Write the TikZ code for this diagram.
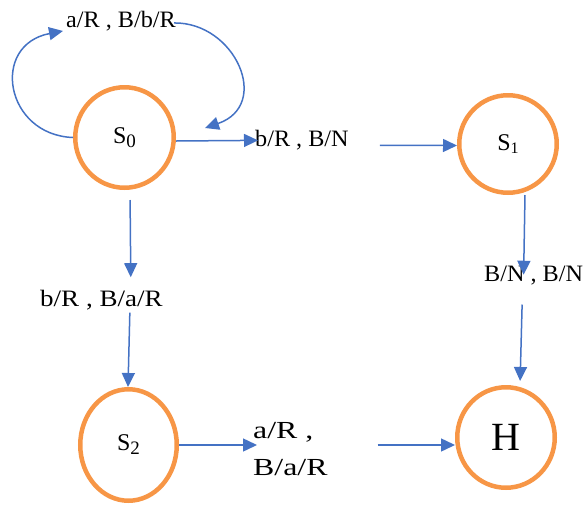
\documentclass[tikz,border=0pt]{standalone}
\usepackage{fontspec}
\setmainfont{Liberation Serif}
\newfontfamily\lblnarrow[FakeStretch=1.03]{Liberation Serif}
\newfontfamily\lblmid[FakeStretch=1.15]{Liberation Serif}
\newfontfamily\lblwide[FakeStretch=1.3]{Liberation Serif}
\usetikzlibrary{arrows.meta,shapes.geometric}
\definecolor{stateorange}{RGB}{247,150,70}
\definecolor{edgeblue}{RGB}{68,114,196}
\tikzset{
  state/.style={ellipse, draw=stateorange, line width=4.5pt, inner sep=0pt},
  arr/.style={draw=edgeblue, line width=1.5pt, -{Triangle[length=14pt,width=13pt]}},
  lbl/.style={inner sep=0pt, anchor=base west, font=\lblnarrow\fontsize{23.5}{28}\selectfont},
}
\newcommand\stname[3]{\fontsize{24}{24}\selectfont S\raisebox{-#3}{\fontsize{#2}{#2}\selectfont #1}}
\begin{document}
\begin{tikzpicture}[x=1pt,y=-1pt]
\useasboundingbox (0,0) rectangle (587,504);

% states
\node[state, minimum width=98.5pt, minimum height=100.5pt] (S0) at (124.5,137.5) {\stname{0}{19}{4pt}};
\node[state, minimum width=97.5pt, minimum height=97.5pt]  (S1) at (508,144)     {\stname{1}{16}{3pt}};
\node[state, minimum width=96.5pt, minimum height=111.5pt] (S2) at (128.5,445)   {\stname{2}{19}{4pt}};
\node[state, minimum width=97.5pt, minimum height=100.5pt] (H)  at (506,437.5)   {\fontsize{40}{40}\selectfont H};

% transition labels
\node[lbl] (lab00) at (66,27.3)   {a/R , B/b/R};
\node[lbl] (lab01) at (255,146.7) {b/R , B/N};
\node[lbl, font=\lblmid\fontsize{23.5}{28}\selectfont] (lab02) at (40,306.7) {b/R , B/a/R};
\node[lbl] (lab13) at (484,281.7) {B/N , B/N};
\node[lbl, anchor=west, align=left, font=\lblwide\fontsize{24.5}{37.7}\selectfont] (lab2H) at (253,449) {a/R ,\\B/a/R};

% free end of the self loop
\coordinate (loopend) at (205,128);
\path ([yshift=-7.5pt]H.west) coordinate (Hin);

% self loop on S0
\draw[arr] (S0.west) .. controls (5,135) and (-10,45) .. ([shift={(-3pt,-10pt)}]lab00.west);
\draw[arr] ([shift={(-2pt,-2pt)}]lab00.east) .. controls (235,22) and (272,105) .. (loopend);

% S0 -> S1
\draw[arr] ([yshift=-3.5pt]S0.east) -- ([xshift=3pt]lab01.west);
\draw[arr, shorten <=31pt] ([yshift=-5pt]lab01.east) -- ([yshift=-1.5pt]S1.west);

% S0 -> S2
\draw[arr, shorten <=10pt, shorten >=13pt] ([xshift=5.5pt]S0.south) -- ([xshift=29.5pt]lab02.north);
\draw[arr, shorten <=2pt] ([xshift=28.5pt]lab02.south) -- ([xshift=-0.5pt]S2.north);

% S1 -> H
\draw[arr] ([xshift=17pt]S1.south) -- ([shift={(-10pt,1pt)}]lab13.center);
\draw[arr, shorten <=19pt, shorten >=4pt] ([xshift=-11pt]lab13.south) -- ([xshift=14pt]H.north);

% S2 -> H
\draw[arr, shorten >=-4pt] (S2.east) -- (S2.east -| lab2H.west);
\draw[arr, shorten <=50pt] (Hin -| lab2H.east) -- (Hin);
\end{tikzpicture}
\end{document}
